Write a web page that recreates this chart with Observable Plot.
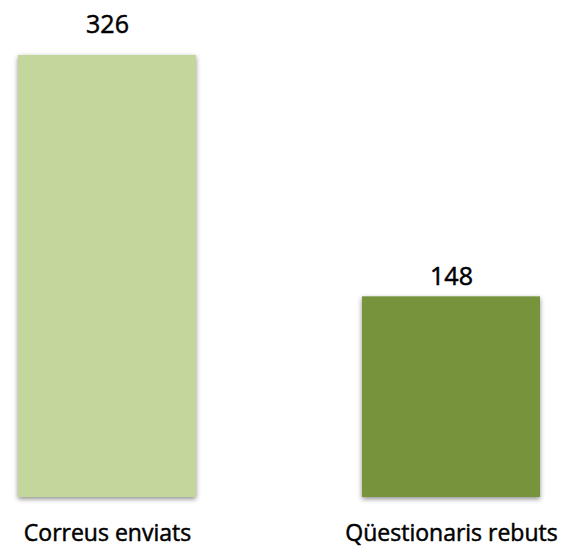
<!DOCTYPE html>
<html>
<head>
<meta charset="utf-8">
<script src="https://cdn.jsdelivr.net/npm/d3@7"></script>
<script src="https://cdn.jsdelivr.net/npm/@observablehq/plot@0.6"></script>
<style>
  html, body { margin: 0; padding: 0; background: #fff; }
  #chart svg { font-family: "Open Sans", Lato, sans-serif; }
  #chart rect { filter: drop-shadow(0px 2px 2.5px rgba(0,0,0,0.45)); }
  #chart text { stroke: #000; stroke-width: 0.5px; paint-order: fill; }
</style>
</head>
<body>
<div id="chart"></div>
<script>
const categories = ["Correus enviats", "Qüestionaris rebuts"];
const values = [326, 148];
const colors = ["#c3d69b", "#77933c"];

const data = categories.map((c, i) => ({category: c, value: values[i], color: colors[i]}));

const chart = Plot.plot({
  width: 571,
  height: 549,
  marginLeft: 18,
  marginRight: 31,
  marginTop: 55,
  marginBottom: 52,
  style: {fontFamily: "'Open Sans', Lato, sans-serif", background: "#fff"},
  x: {domain: categories, padding: 0.4826, paddingOuter: 0, label: null},
  y: {domain: [0, 326], axis: null},
  marks: [
    Plot.barY(data, {x: "category", y: "value", fill: "color"}),
    Plot.text(data.filter(d => d.category === categories[0]), {x: "category", y: "value", text: d => String(d.value), lineAnchor: "bottom", dy: -23, fontSize: 25, fill: "#000"}),
    Plot.text(data.filter(d => d.category === categories[1]), {x: "category", y: "value", text: d => String(d.value), lineAnchor: "bottom", dy: -12, fontSize: 25, fill: "#000"}),
    Plot.axisX({tickSize: 0, tickPadding: 27, fontSize: 23, label: null, color: "#000"})
  ]
});
document.getElementById("chart").appendChild(chart);
</script>
</body>
</html>
